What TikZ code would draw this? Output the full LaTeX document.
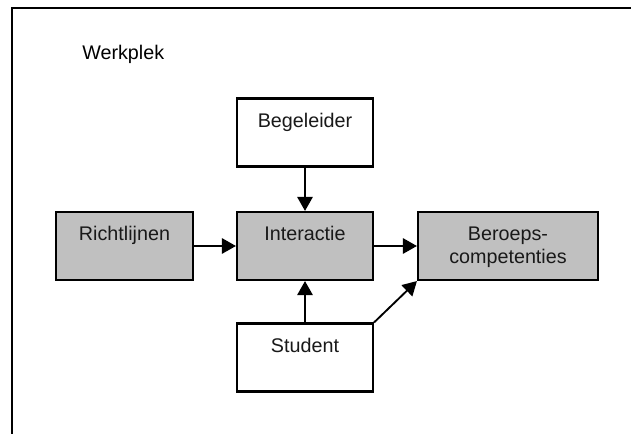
\documentclass[tikz,border=0pt]{standalone}
\usepackage{fontspec}
\setmainfont{Liberation Sans}
\usetikzlibrary{arrows.meta,calc}
\definecolor{boxgray}{HTML}{C0C0C0}
\begin{document}
\begin{tikzpicture}[x=0.75pt,y=-0.75pt,
  font=\fontsize{14.8}{17}\selectfont,
  stepbox/.style={draw=black,line width=1.6pt,rectangle,inner sep=0pt,
    minimum width=102pt,minimum height=51pt},
  graybox/.style={stepbox,fill=boxgray},
  whitebox/.style={stepbox,fill=white},
  boxtext/.style={anchor=base,inner sep=0pt,align=center,text=black!90},
  flow/.style={line width=1.4pt,-{Triangle[length=10.5pt,width=11.5pt]}},
  frameline/.style={line width=1.6pt,line cap=rect}]
  \useasboundingbox (0,0) rectangle (631,434);
  % workplace frame, open towards the right and bottom
  \coordinate (fbl) at (12,434);
  \coordinate (ftl) at (12,8);
  \coordinate (ftr) at (631,8);
  \draw[frameline] (fbl) -- (ftl) -- (ftr);
  \node[anchor=base west,inner sep=0pt] (werkplek) at (82,60) {Werkplek};

  % boxes
  \node[whitebox] (beg) at (305,132.5) {};
  \node[graybox] (int) at (305,246) {};
  \node[graybox,minimum width=102.75pt] (richt) at (124.5,246) {};
  \node[graybox,minimum width=135pt] (ber) at (508,246) {};
  \node[whitebox] (stu) at (305,357.5) {};

  % box captions, set near the top edge (base anchor = last line)
  \node[boxtext] (begT) at ($(beg.north)+(0,30)$) {Begeleider};
  \node[boxtext] (intT) at ($(int.north)+(0,29.5)$) {Interactie};
  \node[boxtext] (richtT) at ($(richt.north)+(0,29.5)$) {Richtlijnen};
  \node[boxtext] (berT) at ($(ber.north)+(0,52.6)$) {Beroeps-\\competenties};
  \node[boxtext] (stuT) at ($(stu.north)+(0,30)$) {Student};

  % connectors
  \draw[flow] (beg.south) -- (int.north);
  \draw[flow] (stu.north) -- (int.south);
  \draw[flow] (richt.east) -- (int.west);
  \draw[flow] (int.east) -- (ber.west);
  \draw[flow] (stu.north east) -- (ber.south west);
\end{tikzpicture}
\end{document}
